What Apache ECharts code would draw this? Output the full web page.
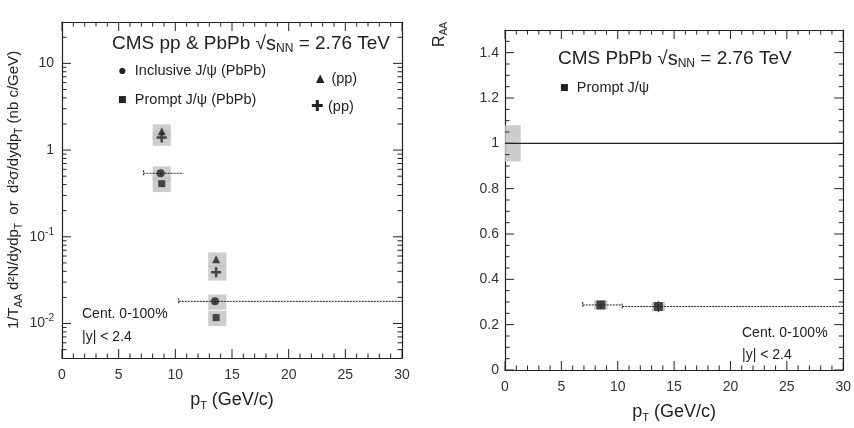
<!DOCTYPE html>
<html>
<head>
<meta charset="utf-8">
<script src="https://cdn.jsdelivr.net/npm/echarts@6/dist/echarts.min.js"></script>
<style>
  html, body { margin: 0; padding: 0; background: #fff; }
  #main { width: 854px; height: 428px; }
</style>
</head>
<body>
<div id="main"></div>
<script>
// left panel: yields vs pT (log scale)
const ptBins = [8.7, 13.5];
const ptLow = [7.2, 10.3];
const ptHigh = [10.7, 30];
const inclusivePbPb = [0.54, 0.018];
const promptPbPb = [0.41, 0.0117];
const inclusivePp = [1.65, 0.055];
const promptPp = [1.4, 0.039];
const sysPtLow = [8.0, 12.9];
const sysPtHigh = [9.6, 14.5];
const sysRel = [0.2, 0.2];

// right panel: R_AA vs pT
const raaPt = [8.5, 13.6];
const raaPtLow = [6.9, 10.4];
const raaPtHigh = [10.4, 30];
const raaValues = [0.287, 0.28];
const raaStat = [0.015, 0.025];
const raaSys = [0.02, 0.02];
const globalBox = [0, 1.4, 0.92, 1.08];

// frame ticks (ROOT style, on all four sides, pointing inwards)
const xMajorTicks = [0, 5, 10, 15, 20, 25, 30];
const xMinorTicks = [1, 2, 3, 4, 6, 7, 8, 9, 11, 12, 13, 14, 16, 17, 18, 19, 21, 22, 23, 24, 26, 27, 28, 29];
const logMajorTicks = [0.01, 0.1, 1, 10];
const logMinorTicks = [0.005, 0.006, 0.007, 0.008, 0.009, 0.02, 0.03, 0.04, 0.05, 0.06, 0.07, 0.08, 0.09,
    0.2, 0.3, 0.4, 0.5, 0.6, 0.7, 0.8, 0.9, 2, 3, 4, 5, 6, 7, 8, 9, 20];
const raaMajorTicks = [0, 0.2, 0.4, 0.6, 0.8, 1, 1.2, 1.4];
const raaMinorTicks = [0.05, 0.1, 0.15, 0.25, 0.3, 0.35, 0.45, 0.5, 0.55, 0.65, 0.7, 0.75,
    0.85, 0.9, 0.95, 1.05, 1.1, 1.15, 1.25, 1.3, 1.35, 1.45];

const FONT = 'Liberation Sans';
const INK = '#222';

var chartDom = document.getElementById('main');
var myChart = echarts.init(chartDom);
var option;

function errBars(x, y, xlo, xhi, ylo, yhi) {
    return x.map((v, i) => [v, y[i], xlo[i], xhi[i], ylo[i], yhi[i]]);
}

function renderErr(params, api) {
    var l = api.coord([api.value(2), api.value(1)]);
    var r = api.coord([api.value(3), api.value(1)]);
    var lo = api.coord([api.value(0), api.value(4)]);
    var hi = api.coord([api.value(0), api.value(5)]);
    var st = { stroke: INK, lineWidth: 1, lineDash: [2, 1] };
    return {
        type: 'group',
        children: [
            { type: 'line', shape: { x1: l[0], y1: l[1], x2: r[0], y2: r[1] }, style: st },
            { type: 'line', shape: { x1: lo[0], y1: lo[1], x2: hi[0], y2: hi[1] }, style: st },
            { type: 'line', shape: { x1: l[0], y1: l[1] - 3, x2: l[0], y2: l[1] + 3 }, style: st }
        ]
    };
}

function renderBox(params, api) {
    var a = api.coord([api.value(0), api.value(3)]);
    var b = api.coord([api.value(1), api.value(2)]);
    return {
        type: 'rect',
        shape: { x: a[0], y: a[1], width: b[0] - a[0], height: b[1] - a[1] },
        style: { fill: '#c4c4c4', opacity: 0.85 }
    };
}

// tick marks as thin rect symbols sitting on the frame edges, shifted inwards
function tickMarks(xMaj, xMin, yMaj, yMin, x0, x1, y0, y1) {
    var out = [];
    function xt(list, len) {
        list.forEach(function (v) {
            out.push({ value: [v, y0], symbolSize: [1, len], symbolOffset: [0, -len / 2] });
            out.push({ value: [v, y1], symbolSize: [1, len], symbolOffset: [0, len / 2] });
        });
    }
    function yt(list, len) {
        list.forEach(function (v) {
            out.push({ value: [x0, v], symbolSize: [len, 1], symbolOffset: [len / 2, 0] });
            out.push({ value: [x1, v], symbolSize: [len, 1], symbolOffset: [-len / 2, 0] });
        });
    }
    xt(xMaj, 9); xt(xMin, 4.5);
    yt(yMaj, 9); yt(yMin, 4.5);
    return out;
}

function boxes(vals) {
    return vals.map((v, i) => [sysPtLow[i], sysPtHigh[i], v * (1 - sysRel[i]), v * (1 + sysRel[i])]);
}

function logLabel(v) {
    var e = Math.round(Math.log10(v));
    if (e === 0) return '1';
    if (e === 1) return '10';
    return '10{sup|' + e + '}';
}

var labelStyle = { fontFamily: FONT, fontSize: 14, color: '#333' };

function frameLine() {
    return { show: true, onZero: false, lineStyle: { color: INK, width: 1.2 } };
}

function xAx(grid, top) {
    return {
        type: 'value', gridIndex: grid, min: 0, max: 30, interval: 5,
        position: top ? 'top' : 'bottom',
        axisLine: frameLine(),
        axisTick: { show: false },
        axisLabel: top ? { show: false } : Object.assign({ margin: 10 }, labelStyle),
        splitLine: { show: false },
        name: top ? '' : 'p{sub|T} (GeV/c)',
        nameLocation: 'middle', nameGap: 32,
        nameTextStyle: { fontFamily: FONT, fontSize: 18, color: INK,
            rich: { sub: { fontSize: 11, fontFamily: FONT, padding: [10, 0, 0, 0] } } }
    };
}

option = {
    backgroundColor: '#fff',
    animation: false,
    grid: [
        { left: 62, top: 22, width: 340, height: 336 },
        { left: 505, top: 30, width: 343, height: 346 }
    ],
    xAxis: [xAx(0, false), xAx(0, true), xAx(1, false), xAx(1, true)],
    yAxis: [
        {
            type: 'log', gridIndex: 0, min: 0.004, max: 30, logBase: 10,
            axisLine: frameLine(),
            axisTick: { show: false },
            axisLabel: Object.assign({ formatter: logLabel, showMinLabel: false, showMaxLabel: false,
                rich: { sup: { fontSize: 10, fontFamily: FONT, verticalAlign: 'top', padding: [0, 0, 10, 0] } } }, labelStyle),
            splitLine: { show: false },
            name: '1/T{sub|AA} d²N/dydp{sub|T}  or  d²σ/dydp{sub|T} (nb c/GeV)',
            nameLocation: 'middle', nameGap: 38, nameRotate: 90,
            nameTextStyle: { fontFamily: FONT, fontSize: 15, color: INK,
                rich: { sub: { fontSize: 10, fontFamily: FONT, padding: [10, 0, 0, 0] } } }
        },
        {
            type: 'log', gridIndex: 0, min: 0.004, max: 30, position: 'right',
            axisLine: frameLine(), axisTick: { show: false },
            axisLabel: { show: false }, splitLine: { show: false }
        },
        {
            type: 'value', gridIndex: 1, min: 0, max: 1.5, interval: 0.2,
            axisLine: frameLine(), axisTick: { show: false },
            axisLabel: Object.assign({ showMaxLabel: false, margin: 6 }, labelStyle),
            splitLine: { show: false }
        },
        {
            type: 'value', gridIndex: 1, min: 0, max: 1.5, interval: 0.2, position: 'right',
            axisLine: frameLine(), axisTick: { show: false },
            axisLabel: { show: false }, splitLine: { show: false }
        }
    ],
    series: [
        // frame ticks
        { type: 'scatter', xAxisIndex: 0, yAxisIndex: 0, symbol: 'rect', clip: false, silent: true, z: 4,
          itemStyle: { color: INK, opacity: 1 },
          data: tickMarks(xMajorTicks, xMinorTicks, logMajorTicks, logMinorTicks, 0, 30, 0.004, 30) },
        { type: 'scatter', xAxisIndex: 2, yAxisIndex: 2, symbol: 'rect', clip: false, silent: true, z: 4,
          itemStyle: { color: INK, opacity: 1 },
          data: tickMarks(xMajorTicks, xMinorTicks, raaMajorTicks, raaMinorTicks, 0, 30, 0, 1.5) },

        // left panel systematic boxes
        { type: 'custom', xAxisIndex: 0, yAxisIndex: 0, renderItem: renderBox, z: 1,
          data: boxes(inclusivePp).concat(boxes(promptPp), boxes(inclusivePbPb), boxes(promptPbPb)) },
        { type: 'custom', xAxisIndex: 0, yAxisIndex: 0, renderItem: renderErr, z: 2,
          data: errBars(ptBins, inclusivePbPb, ptLow, ptHigh,
              inclusivePbPb.map(v => v * 0.95), inclusivePbPb.map(v => v * 1.05)) },
        { type: 'scatter', name: 'Inclusive J/ψ (PbPb)', xAxisIndex: 0, yAxisIndex: 0, symbol: 'circle', symbolSize: 8,
          itemStyle: { color: INK }, z: 3, data: ptBins.map((x, i) => [x, inclusivePbPb[i]]) },
        { type: 'scatter', name: 'Prompt J/ψ (PbPb)', xAxisIndex: 0, yAxisIndex: 0, symbol: 'rect', symbolSize: 7,
          itemStyle: { color: INK }, z: 3, data: ptBins.map((x, i) => [x + 0.1, promptPbPb[i]]) },
        { type: 'scatter', name: 'Inclusive J/ψ (pp)', xAxisIndex: 0, yAxisIndex: 0, symbol: 'triangle', symbolSize: 8,
          itemStyle: { color: INK }, z: 3, data: ptBins.map((x, i) => [x + 0.1, inclusivePp[i]]) },
        { type: 'scatter', name: 'Prompt J/ψ (pp)', xAxisIndex: 0, yAxisIndex: 0,
          symbol: 'path://M3,0H5V3H8V5H5V8H3V5H0V3H3Z', symbolSize: 10,
          itemStyle: { color: INK }, z: 3, data: ptBins.map((x, i) => [x + 0.1, promptPp[i]]) },

        // right panel
        { type: 'custom', xAxisIndex: 2, yAxisIndex: 2, renderItem: renderBox, z: 1,
          data: [globalBox].concat(raaPt.map((x, i) => [x - 0.6, x + 0.6, raaValues[i] - raaSys[i], raaValues[i] + raaSys[i]])) },
        { type: 'line', xAxisIndex: 2, yAxisIndex: 2, symbol: 'none', z: 2,
          lineStyle: { color: INK, width: 1.2 }, data: [[0, 1], [30, 1]] },
        { type: 'custom', xAxisIndex: 2, yAxisIndex: 2, renderItem: renderErr, z: 2,
          data: errBars(raaPt, raaValues, raaPtLow, raaPtHigh,
              raaValues.map((v, i) => v - raaStat[i]), raaValues.map((v, i) => v + raaStat[i])) },
        { type: 'scatter', name: 'Prompt J/ψ', xAxisIndex: 2, yAxisIndex: 2, symbol: 'rect', symbolSize: 9,
          itemStyle: { color: INK }, z: 3, data: raaPt.map((x, i) => [x, raaValues[i]]) }
    ],
    graphic: [
        { type: 'text', left: 112, top: 34, style: { text: 'CMS pp & PbPb √{s|s}{sub|NN} = 2.76 TeV', fill: INK,
            font: '19px ' + FONT, rich: { s: { fontSize: 20, fontFamily: FONT }, sub: { fontSize: 12, fontFamily: FONT, padding: [9, 0, 0, 0] } } } },
        { type: 'text', left: 118, top: 63, style: { text: '●  Inclusive J/ψ (PbPb)', fill: INK, font: '14.5px ' + FONT } },
        { type: 'text', left: 118, top: 92, style: { text: '■  Prompt J/ψ (PbPb)', fill: INK, font: '14.5px ' + FONT } },
        { type: 'text', left: 313, top: 71, style: { text: '▲ (pp)', fill: INK, font: '14.5px ' + FONT } },
        { type: 'text', left: 311, top: 99, style: { text: '✚ (pp)', fill: INK, font: '14.5px ' + FONT } },
        { type: 'text', left: 82, top: 307, style: { text: 'Cent. 0-100%', fill: INK, font: '14px ' + FONT } },
        { type: 'text', left: 82, top: 330, style: { text: '|y| < 2.4', fill: INK, font: '14px ' + FONT } },

        { type: 'text', left: 558, top: 49, style: { text: 'CMS PbPb √{s|s}{sub|NN} = 2.76 TeV', fill: INK,
            font: '19px ' + FONT, rich: { s: { fontSize: 20, fontFamily: FONT }, sub: { fontSize: 12, fontFamily: FONT, padding: [9, 0, 0, 0] } } } },
        { type: 'text', left: 560, top: 80, style: { text: '■  Prompt J/ψ', fill: INK, font: '14.5px ' + FONT } },
        { type: 'text', left: 742, top: 326, style: { text: 'Cent. 0-100%', fill: INK, font: '14px ' + FONT } },
        { type: 'text', left: 742, top: 348, style: { text: '|y| < 2.4', fill: INK, font: '14px ' + FONT } },
        { type: 'text', left: 432, top: 22, rotation: Math.PI / 2, style: { text: 'R{sub|AA}', fill: INK,
            font: '16px ' + FONT, rich: { sub: { fontSize: 10, fontFamily: FONT, padding: [8, 0, 0, 0] } } } }
    ]
};

option && myChart.setOption(option);
</script>
</body>
</html>
